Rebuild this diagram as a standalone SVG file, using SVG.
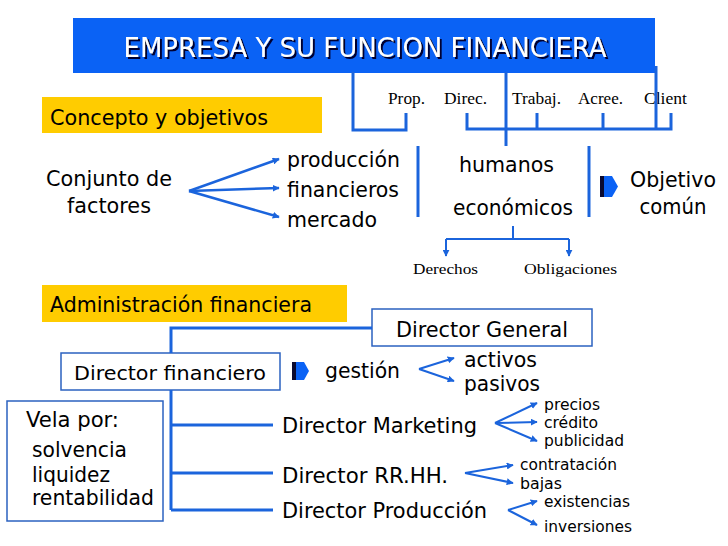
<svg xmlns="http://www.w3.org/2000/svg" width="728" height="546" viewBox="0 0 728 546">
<style>
.s{font-family:"DejaVu Sans Condensed","DejaVu Sans","Liberation Sans",sans-serif;fill:#000}
.r{font-family:"Liberation Serif","Times New Roman",serif;fill:#000;font-size:16px}
.ln{fill:none;stroke:#1b64dc;stroke-width:3}
.la{fill:none;stroke:#1b64dc;stroke-width:2.5}
.lt{fill:none;stroke:#1b64dc;stroke-width:2}
.bx{fill:#fff;stroke:#2b62c0;stroke-width:1.5}
.yl{fill:#ffcc00}
.bd{fill:#0a0a30}
.bb{fill:#0a62f5}
</style>
<defs>
<marker id="ah" viewBox="0 0 10 10" refX="9" refY="5" markerWidth="7" markerHeight="7" markerUnits="userSpaceOnUse" orient="auto">
<path d="M0,0 L10,5 L0,10 z" fill="#1b64dc"/>
</marker>
<filter id="sh" x="-5%" y="-20%" width="110%" height="150%">
<feDropShadow dx="2" dy="2" stdDeviation="0.4" flood-color="#000030" flood-opacity="1"/>
</filter>
</defs>

<g id="title">
<rect x="73" y="18" width="582" height="55" fill="#0a62f5"/>
<text x="365" y="57" text-anchor="middle" class="s" style="fill:#fff;font-size:27px" filter="url(#sh)" textLength="483" lengthAdjust="spacingAndGlyphs">EMPRESA Y SU FUNCION FINANCIERA</text>
</g>

<g id="concepto">
<rect class="yl" x="42" y="97" width="280" height="36"/>
<text x="50" y="125" class="s" style="font-size:21px" textLength="218" lengthAdjust="spacingAndGlyphs">Concepto y objetivos</text>
</g>

<g id="stakeholders">
<text x="388" y="104" class="r" textLength="37" lengthAdjust="spacingAndGlyphs">Prop.</text>
<text x="444" y="104" class="r" textLength="43" lengthAdjust="spacingAndGlyphs">Direc.</text>
<text x="512" y="104" class="r" textLength="49" lengthAdjust="spacingAndGlyphs">Trabaj.</text>
<text x="578" y="104" class="r" textLength="45" lengthAdjust="spacingAndGlyphs">Acree.</text>
<text x="644" y="104" class="r" textLength="43" lengthAdjust="spacingAndGlyphs">Client</text>
</g>

<g id="conjunto">
<text x="109" y="186" text-anchor="middle" class="s" style="font-size:22px" textLength="126" lengthAdjust="spacingAndGlyphs">Conjunto de</text>
<text x="109" y="213" text-anchor="middle" class="s" style="font-size:22px" textLength="84" lengthAdjust="spacingAndGlyphs">factores</text>
</g>

<g id="factores">
<text x="287" y="167" class="s" style="font-size:22px" textLength="113" lengthAdjust="spacingAndGlyphs">producción</text>
<text x="287" y="197" class="s" style="font-size:22px" textLength="112" lengthAdjust="spacingAndGlyphs">financieros</text>
<text x="287" y="227" class="s" style="font-size:22px" textLength="90" lengthAdjust="spacingAndGlyphs">mercado</text>
</g>

<g id="humanos">
<text x="459" y="172" class="s" style="font-size:22px" textLength="95" lengthAdjust="spacingAndGlyphs">humanos</text>
<text x="453" y="215" class="s" style="font-size:22px" textLength="120" lengthAdjust="spacingAndGlyphs">económicos</text>
</g>

<g id="derechos">
<text x="413" y="274" class="r" style="font-size:15px" textLength="65" lengthAdjust="spacingAndGlyphs">Derechos</text>
<text x="524" y="274" class="r" style="font-size:15px" textLength="93" lengthAdjust="spacingAndGlyphs">Obligaciones</text>
</g>

<g id="objetivo">
<rect class="bd" x="600" y="176" width="4" height="21"/>
<polygon class="bb" points="604,176 612,176 618,186.5 612,197 604,197"/>
<text x="673" y="187" text-anchor="middle" class="s" style="font-size:22px" textLength="86" lengthAdjust="spacingAndGlyphs">Objetivo</text>
<text x="673" y="214" text-anchor="middle" class="s" style="font-size:22px" textLength="67" lengthAdjust="spacingAndGlyphs">común</text>
</g>

<g id="administracion">
<rect class="yl" x="42" y="285" width="305" height="37"/>
<text x="50" y="312" class="s" style="font-size:21px" textLength="262" lengthAdjust="spacingAndGlyphs">Administración financiera</text>
</g>

<g id="director-general">
<rect class="bx" x="372" y="309" width="220" height="37"/>
<text x="482" y="337" text-anchor="middle" class="s" style="font-size:21px" textLength="172" lengthAdjust="spacingAndGlyphs">Director General</text>
</g>

<g id="director-financiero">
<rect class="bx" x="61" y="353" width="219" height="37"/>
<text x="170" y="380" text-anchor="middle" class="s" style="font-size:20px" textLength="192" lengthAdjust="spacingAndGlyphs">Director financiero</text>
</g>

<g id="gestion">
<rect class="bd" x="292" y="362" width="4" height="18"/>
<polygon class="bb" points="296,362 304,362 309,371 304,380 296,380"/>
<text x="325" y="378" class="s" style="font-size:21px" textLength="75" lengthAdjust="spacingAndGlyphs">gestión</text>
</g>

<g id="activos">
<text x="464" y="367" class="s" style="font-size:21px" textLength="73" lengthAdjust="spacingAndGlyphs">activos</text>
<text x="464" y="391" class="s" style="font-size:21px" textLength="76" lengthAdjust="spacingAndGlyphs">pasivos</text>
</g>

<g id="vela">
<rect class="bx" x="7" y="401" width="156" height="120"/>
<text x="26" y="427" class="s" style="font-size:21px" textLength="93" lengthAdjust="spacingAndGlyphs">Vela por:</text>
<text x="32" y="457" class="s" style="font-size:21px" textLength="95" lengthAdjust="spacingAndGlyphs">solvencia</text>
<text x="32" y="482" class="s" style="font-size:21px" textLength="78" lengthAdjust="spacingAndGlyphs">liquidez</text>
<text x="32" y="505" class="s" style="font-size:21px" textLength="122" lengthAdjust="spacingAndGlyphs">rentabilidad</text>
</g>

<g id="marketing">
<text x="282" y="433" class="s" style="font-size:21px" textLength="195" lengthAdjust="spacingAndGlyphs">Director Marketing</text>
<text x="544" y="410" class="s" style="font-size:16px" textLength="56" lengthAdjust="spacingAndGlyphs">precios</text>
<text x="544" y="428" class="s" style="font-size:16px" textLength="54" lengthAdjust="spacingAndGlyphs">crédito</text>
<text x="544" y="446" class="s" style="font-size:16px" textLength="80" lengthAdjust="spacingAndGlyphs">publicidad</text>
</g>

<g id="rrhh">
<text x="282" y="483" class="s" style="font-size:21px" textLength="166" lengthAdjust="spacingAndGlyphs">Director RR.HH.</text>
<text x="520" y="470" class="s" style="font-size:15px" textLength="97" lengthAdjust="spacingAndGlyphs">contratación</text>
<text x="520" y="489" class="s" style="font-size:15px" textLength="42" lengthAdjust="spacingAndGlyphs">bajas</text>
</g>

<g id="produccion">
<text x="282" y="518" class="s" style="font-size:21px" textLength="205" lengthAdjust="spacingAndGlyphs">Director Producción</text>
<text x="544" y="507" class="s" style="font-size:16px" textLength="86" lengthAdjust="spacingAndGlyphs">existencias</text>
<text x="544" y="532" class="s" style="font-size:16px" textLength="88" lengthAdjust="spacingAndGlyphs">inversiones</text>
</g>

<g id="connectors">
<path class="ln" d="M353,72 V130 H406 V113"/>
<path class="ln" d="M506,72 V146"/>
<path class="ln" d="M467,113 V129 H671 V113"/>
<path class="ln" d="M537,113 V129"/>
<path class="ln" d="M603,113 V130"/>
<path class="ln" d="M656,66 V130"/>
<path class="ln" d="M418,146 V217"/>
<path class="ln" d="M589,146 V217"/>
<path class="la" d="M189,191 L279,159" marker-end="url(#ah)"/>
<path class="la" d="M189,191 L279,188" marker-end="url(#ah)"/>
<path class="la" d="M189,191 L279,217" marker-end="url(#ah)"/>
<path class="lt" d="M513,226 V239"/>
<path class="lt" d="M446,239 H569"/>
<path class="lt" d="M446,239 V256" marker-end="url(#ah)"/>
<path class="lt" d="M569,239 V256" marker-end="url(#ah)"/>
<path class="ln" d="M372,328 H171 V353"/>
<path class="ln" d="M171,390 V510"/>
<path class="ln" d="M171,425 H273"/>
<path class="ln" d="M171,473 H273"/>
<path class="ln" d="M171,510 H273"/>
<path class="lt" d="M419,369 L454,358" marker-end="url(#ah)"/>
<path class="lt" d="M419,369 L454,381" marker-end="url(#ah)"/>
<path class="lt" d="M495,423 L537,403" marker-end="url(#ah)"/>
<path class="lt" d="M495,423 L537,422" marker-end="url(#ah)"/>
<path class="lt" d="M495,423 L537,441" marker-end="url(#ah)"/>
<path class="lt" d="M465,473 L513,465" marker-end="url(#ah)"/>
<path class="lt" d="M465,473 L513,483" marker-end="url(#ah)"/>
<path class="lt" d="M508,510 L537,501" marker-end="url(#ah)"/>
<path class="lt" d="M508,510 L537,525" marker-end="url(#ah)"/>
</g>
</svg>
